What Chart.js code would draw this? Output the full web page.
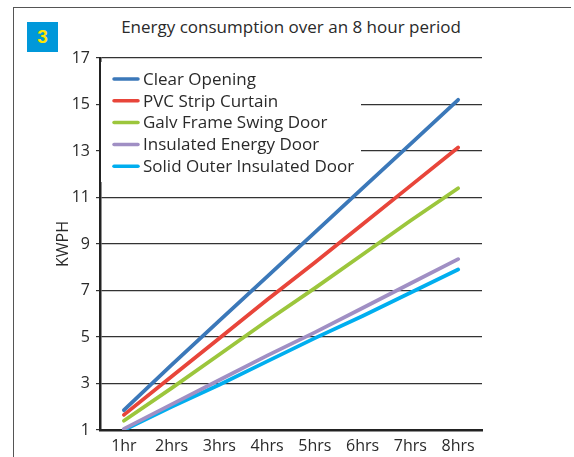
<!DOCTYPE html>
<html>
<head>
<meta charset="utf-8">
<script src="https://cdn.jsdelivr.net/npm/chart.js@4"></script>
<style>
  html, body { margin: 0; padding: 0; background: #fff; }
  #wrap { position: relative; width: 574px; height: 457px; overflow: hidden; }
  #frameTop { position: absolute; left: 13px; top: 7px; width: 558px; height: 0; border-top: 1.5px solid #555; }
  #frameLeft { position: absolute; left: 13px; top: 7px; width: 0; height: 460px; border-left: 1.5px solid #555; }
  #badge { position: absolute; left: 27px; top: 22px; width: 31px; height: 30px; background: #0098da;
           color: #ffe500; font: bold 19px "Liberation Sans", Arial, sans-serif; text-align: center; line-height: 30px; }
  #title { position: absolute; left: 0; width: 582px; top: 15px; text-align: center; color: #2a2a2a;
           font: 17px "Open Sans", sans-serif; }
  canvas { position: absolute; left: 0; top: 0; }
</style>
</head>
<body>
<div id="wrap">
  <div id="frameTop"></div>
  <div id="frameLeft"></div>
  <div id="badge">3</div>
  <div id="title">Energy consumption over an 8 hour period</div>
  <canvas id="c" width="574" height="457"></canvas>
</div>
<script>
const categories = ['1hr', '2hrs', '3hrs', '4hrs', '5hrs', '6hrs', '7hrs', '8hrs'];
const seriesNames = ['Clear Opening', 'PVC Strip Curtain', 'Galv Frame Swing Door', 'Insulated Energy Door', 'Solid Outer Insulated Door'];
const clearOpening = [1.85, 3.8, 5.7, 7.6, 9.5, 11.4, 13.3, 15.2];
const pvcStripCurtain = [1.65, 3.3, 4.95, 6.6, 8.2, 9.85, 11.5, 13.15];
const galvFrameSwingDoor = [1.4, 2.8, 4.25, 5.7, 7.1, 8.55, 10.0, 11.4];
const insulatedEnergyDoor = [1.05, 2.1, 3.15, 4.2, 5.2, 6.25, 7.3, 8.35];
const solidOuterInsulatedDoor = [1.0, 2.0, 2.95, 3.95, 4.95, 5.9, 6.9, 7.9];
const yTicks = [1, 3, 5, 7, 9, 11, 13, 15, 17];
const colors = ['#3b78b9', '#e8453a', '#9cc63c', '#a08fc4', '#00aeef'];
const allSeries = [clearOpening, pvcStripCurtain, galvFrameSwingDoor, insulatedEnergyDoor, solidOuterInsulatedDoor];

const FONT = '"Open Sans", sans-serif';
const TEXT = '#2a2a2a';

const legendPlugin = {
  id: 'insideLegend',
  beforeDatasetsDraw(chart) {
    const ctx = chart.ctx;
    const area = chart.chartArea;
    ctx.save();
    ctx.fillStyle = '#fff';
    ctx.fillRect(area.left + 1, area.top + 4, 260, 120);
    ctx.font = '17px ' + FONT;
    ctx.textBaseline = 'middle';
    chart.data.datasets.forEach((ds, i) => {
      const y = area.top + 21 + i * 21.8;
      ctx.strokeStyle = ds.borderColor;
      ctx.lineWidth = 3.5;
      ctx.lineCap = 'round';
      ctx.beginPath();
      ctx.moveTo(area.left + 14, y);
      ctx.lineTo(area.left + 38, y);
      ctx.stroke();
      ctx.fillStyle = TEXT;
      ctx.fillText(ds.label, area.left + 43, y + 1);
    });
    ctx.restore();
  }
};

new Chart(document.getElementById('c'), {
  type: 'line',
  data: {
    labels: categories,
    datasets: seriesNames.map((name, i) => ({
      label: name,
      data: allSeries[i],
      borderColor: colors[i],
      backgroundColor: colors[i],
      borderWidth: 3.8,
      pointRadius: 0,
      tension: 0,
      borderCapStyle: 'round'
    }))
  },
  options: {
    responsive: false,
    animation: false,
    layout: { padding: { top: 58, right: 92, left: 0, bottom: 0 } },
    plugins: {
      legend: { display: false },
      title: { display: false },
      tooltip: { enabled: false }
    },
    scales: {
      x: {
        type: 'category',
        offset: true,
        grid: { display: false, drawTicks: false },
        border: { color: '#222', width: 2.5 },
        ticks: { color: TEXT, font: { family: FONT, size: 16 }, padding: 7 },
        afterFit(scale) { scale.height = 27; }
      },
      y: {
        min: 1,
        max: 17,
        afterBuildTicks(scale) { scale.ticks = yTicks.map(v => ({ value: v })); },
        grid: { color: '#333', lineWidth: 1.2, tickLength: 4, drawTicks: true, tickColor: '#333' },
        border: { color: '#222', width: 2.5 },
        ticks: { color: TEXT, font: { family: FONT, size: 16 }, padding: 6 },
        title: { display: true, text: 'KWPH', color: TEXT, font: { family: FONT, size: 16 }, padding: { top: 54, bottom: 0 } },
        afterFit(scale) { scale.width = 100; }
      }
    }
  },
  plugins: [legendPlugin]
});
</script>
</body>
</html>
